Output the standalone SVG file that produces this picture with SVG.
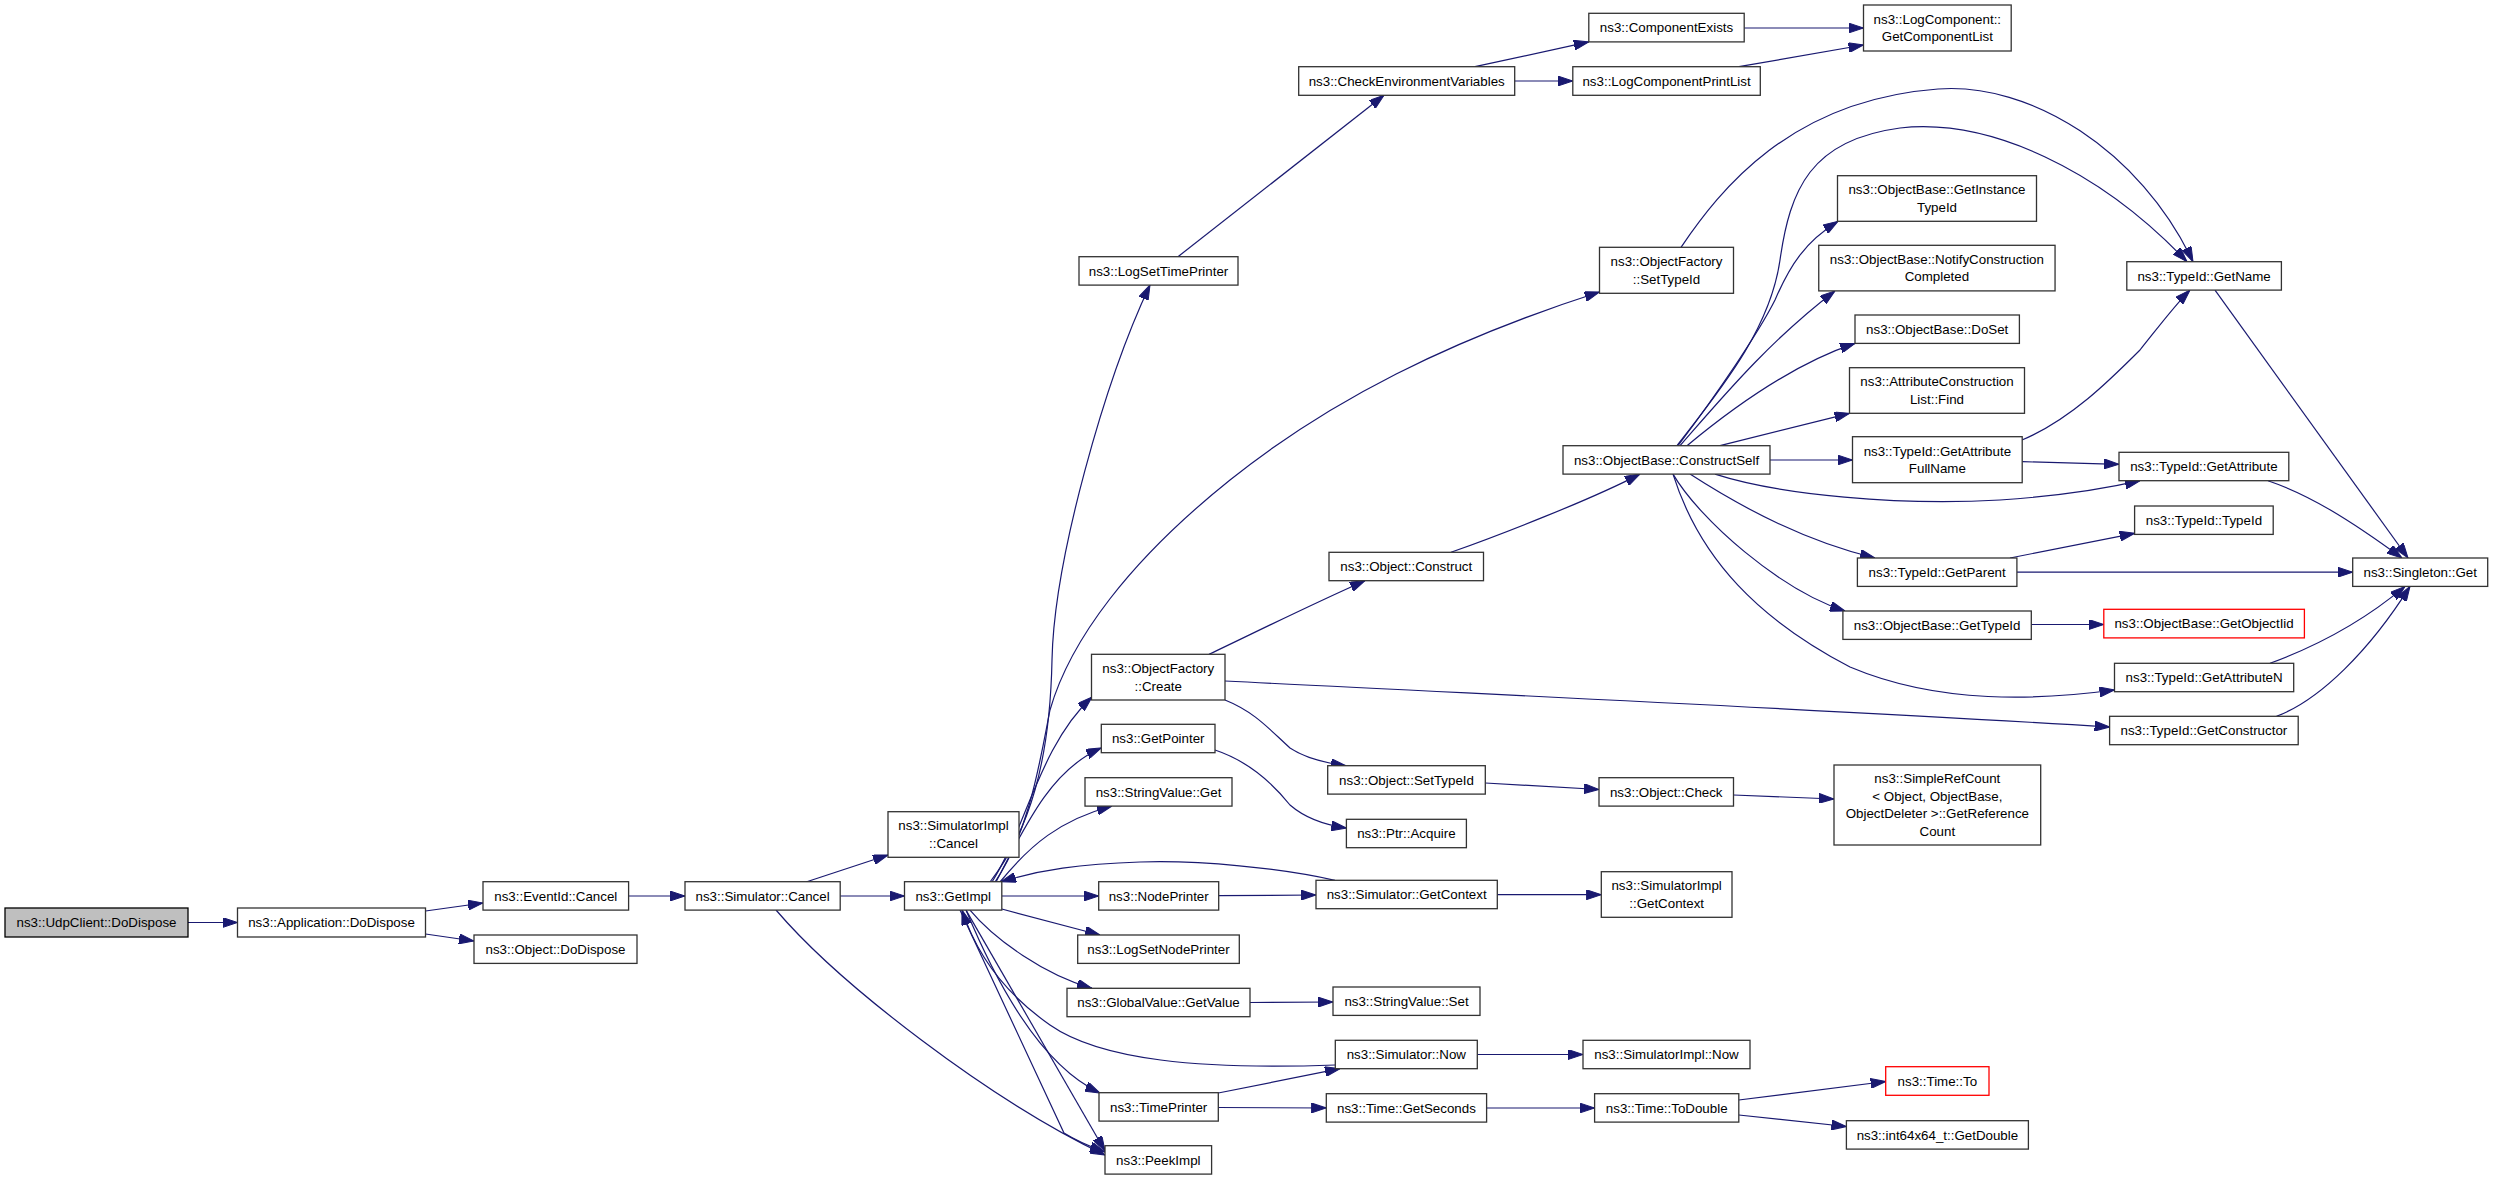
<svg xmlns="http://www.w3.org/2000/svg" width="2493" height="1180" viewBox="0 0 2493 1180">
<defs>
<style>
.n rect{fill:#ffffff;stroke:#333333;stroke-width:1.3}
.n.sel rect{fill:#bfbfbf;stroke:#000000}
.n.red rect{stroke:#ff0000}
.n text{font-family:"Liberation Sans",Arial,Helvetica,sans-serif;font-size:13.33px;fill:#000000;text-anchor:middle}
#edges path{fill:none;stroke:#191970;stroke-width:1.2;marker-end:url(#ah)}
</style>
<marker id="ah" viewBox="0 0 15 10" refX="15" refY="5" markerWidth="15" markerHeight="10" orient="auto" markerUnits="userSpaceOnUse">
<path d="M0,0 L15,5 L0,10 z" fill="#191970" stroke="#191970" stroke-width="1"/>
</marker>
</defs>
<rect x="0" y="0" width="2493" height="1180" fill="#ffffff"/>
<g id="edges">
<path d="M188,922.5 L237.5,922.5"/>
<path d="M425.5,911 L483,903"/>
<path d="M425.5,934 L474,941"/>
<path d="M628.6,896 L685,896"/>
<path d="M806,882 L888,855"/>
<path d="M840.2,896 L904.5,896"/>
<path d="M776,910 C840,985 990,1100 1105,1155"/>
<path d="M990,882 C1030,830 1050,760 1052,660 C1054,560 1105,380 1150,285"/>
<path d="M995,882 C1030,830 1040,760 1050,710 C1070,640 1130,560 1230,480 C1330,400 1450,340 1599.5,292"/>
<path d="M992,882 C1025,830 1040,745 1092,697"/>
<path d="M996,882 C1030,815 1055,768 1101.3,748"/>
<path d="M1000,882 C1030,845 1060,820 1112,806"/>
<path d="M1001.8,896 L1098.7,896"/>
<path d="M1001.8,909 L1100,935"/>
<path d="M970,910.1 C995,940 1045,975 1092,988.3"/>
<path d="M966,910.1 C995,980 1040,1065 1100,1093"/>
<path d="M1335.3,1065 C1200,1070 1100,1060 1050,1025 C1000,990 975,950 962,910.1"/>
<path d="M966,910.1 L1105,1151"/>
<path d="M960,910.1 L1064,1133 Q1080,1143 1105,1152"/>
<path d="M1335,880.3 C1280,868 1200,860 1140,862 C1080,864 1040,870 1001,881.7"/>
<path d="M1215,750 C1245,760 1270,780 1290,805 C1305,818 1325,825 1346.4,828"/>
<path d="M1218.7,895.7 L1316,895"/>
<path d="M1250,1002.5 L1333,1002"/>
<path d="M1218.3,1093 L1340,1068.7"/>
<path d="M1218.3,1107.5 L1326.3,1108"/>
<path d="M1209,654.3 C1260,630 1310,605 1365,580.7"/>
<path d="M1225,681 C1500,695 1800,708 2109.6,727"/>
<path d="M1225,700 C1255,712 1270,730 1290,748 C1305,758 1325,763 1346,765.7"/>
<path d="M1485.3,783 L1599,789.5"/>
<path d="M1733.5,795 L1834,799"/>
<path d="M1451,552.3 C1500,535 1590,500 1640,474.1"/>
<path d="M1497.3,894.7 L1601.3,894.7"/>
<path d="M1477.3,1054.5 L1583,1054.5"/>
<path d="M1486.6,1108 L1594.6,1108"/>
<path d="M1738.8,1100 L1885.7,1081.5"/>
<path d="M1738.8,1115 L1846.4,1126.5"/>
<path d="M1178,256.7 L1384,95.3"/>
<path d="M1475,66.7 L1588.8,41.9"/>
<path d="M1514.7,81 L1572.8,81"/>
<path d="M1744.2,28 L1863.5,28"/>
<path d="M1739,66.7 L1863.5,45"/>
<path d="M1681,247.3 C1720,190 1790,100 1938,89 C2030,82 2140,150 2193,261.7"/>
<path d="M1677,445.7 C1720,390 1770,330 1780,260 C1790,190 1810,140 1900,128 C1990,118 2100,170 2187,261.7"/>
<path d="M1678,445.7 C1720,390 1760,330 1775,300 C1790,265 1805,242 1838,221.3"/>
<path d="M1680,445.7 C1720,400 1770,340 1835,290.9"/>
<path d="M1687,445.7 C1730,410 1790,365 1855,343.4"/>
<path d="M1720,445.7 L1849.5,413.3"/>
<path d="M1770,460 L1852.5,460"/>
<path d="M1715,474.1 C1780,495 1900,506 2000,500 C2060,496 2100,490 2140,480.7"/>
<path d="M1690,474.1 C1730,500 1800,540 1875,558"/>
<path d="M1673,474.1 C1700,520 1780,590 1845,611"/>
<path d="M1673,474.1 C1700,560 1760,620 1850,667 C1940,705 2040,700 2114.5,690"/>
<path d="M2022,440 C2070,420 2110,380 2140,350 C2160,325 2175,305 2190,290.1"/>
<path d="M2022.2,461.7 L2119,464.3"/>
<path d="M2215,290.1 L2408,558"/>
<path d="M2268,480.7 C2310,495 2350,520 2402,558"/>
<path d="M2010,558 L2134.6,533.3"/>
<path d="M2016.9,572.2 L2352.7,572.2"/>
<path d="M2031.3,624.5 L2103.8,624.5"/>
<path d="M2270,663.3 C2320,645 2365,620 2405,586.4"/>
<path d="M2276.5,716.3 C2320,700 2370,650 2410,586.4"/>
</g>
<g id="n0" class="n sel"><rect x="5" y="908" width="183" height="29"/><text x="96.5" y="927.1">ns3::UdpClient::DoDispose</text></g>
<g id="n1" class="n"><rect x="237.5" y="908" width="188" height="29"/><text x="331.5" y="927.1">ns3::Application::DoDispose</text></g>
<g id="n2" class="n"><rect x="483" y="881.7" width="145.6" height="28.4"/><text x="555.8" y="900.5">ns3::EventId::Cancel</text></g>
<g id="n3" class="n"><rect x="474" y="935" width="163" height="28.4"/><text x="555.5" y="953.8">ns3::Object::DoDispose</text></g>
<g id="n4" class="n"><rect x="685" y="881.7" width="155.2" height="28.4"/><text x="762.6" y="900.5">ns3::Simulator::Cancel</text></g>
<g id="n5" class="n"><rect x="888" y="811.7" width="131" height="45.6"/><text x="953.5" y="830.35">ns3::SimulatorImpl</text><text x="953.5" y="847.85">::Cancel</text></g>
<g id="n6" class="n"><rect x="904.5" y="881.7" width="97.3" height="28.4"/><text x="953.2" y="900.5">ns3::GetImpl</text></g>
<g id="n7" class="n"><rect x="1079" y="256.7" width="159" height="28.4"/><text x="1158.5" y="275.5">ns3::LogSetTimePrinter</text></g>
<g id="n8" class="n"><rect x="1091.5" y="654.3" width="133.5" height="45.7"/><text x="1158.25" y="673">ns3::ObjectFactory</text><text x="1158.25" y="690.5">::Create</text></g>
<g id="n9" class="n"><rect x="1101.3" y="724.3" width="113.7" height="28.4"/><text x="1158.2" y="743.1">ns3::GetPointer</text></g>
<g id="n10" class="n"><rect x="1085" y="777.7" width="147" height="28.4"/><text x="1158.5" y="796.5">ns3::StringValue::Get</text></g>
<g id="n11" class="n"><rect x="1098.7" y="881.7" width="120" height="28.4"/><text x="1158.7" y="900.5">ns3::NodePrinter</text></g>
<g id="n12" class="n"><rect x="1077.7" y="935" width="161.6" height="28.4"/><text x="1158.5" y="953.8">ns3::LogSetNodePrinter</text></g>
<g id="n13" class="n"><rect x="1067" y="988.3" width="183" height="28.4"/><text x="1158.5" y="1007.1">ns3::GlobalValue::GetValue</text></g>
<g id="n14" class="n"><rect x="1099" y="1092.7" width="119.3" height="28.4"/><text x="1158.65" y="1111.5">ns3::TimePrinter</text></g>
<g id="n15" class="n"><rect x="1105" y="1145.7" width="106.6" height="28.4"/><text x="1158.3" y="1164.5">ns3::PeekImpl</text></g>
<g id="n16" class="n"><rect x="1298.7" y="66.7" width="216" height="28.6"/><text x="1406.7" y="85.6">ns3::CheckEnvironmentVariables</text></g>
<g id="n17" class="n"><rect x="1329" y="552.3" width="154.5" height="28.4"/><text x="1406.25" y="571.1">ns3::Object::Construct</text></g>
<g id="n18" class="n"><rect x="1327.7" y="765.7" width="157.6" height="28.4"/><text x="1406.5" y="784.5">ns3::Object::SetTypeId</text></g>
<g id="n19" class="n"><rect x="1346.4" y="819.3" width="120" height="28.4"/><text x="1406.4" y="838.1">ns3::Ptr::Acquire</text></g>
<g id="n20" class="n"><rect x="1316" y="880.3" width="181.3" height="28.4"/><text x="1406.65" y="899.1">ns3::Simulator::GetContext</text></g>
<g id="n21" class="n"><rect x="1333" y="987" width="147" height="28.4"/><text x="1406.5" y="1005.8">ns3::StringValue::Set</text></g>
<g id="n22" class="n"><rect x="1335.3" y="1040.3" width="142" height="28.4"/><text x="1406.3" y="1059.1">ns3::Simulator::Now</text></g>
<g id="n23" class="n"><rect x="1326.3" y="1093.7" width="160.3" height="28.4"/><text x="1406.45" y="1112.5">ns3::Time::GetSeconds</text></g>
<g id="n24" class="n"><rect x="1588.8" y="13.3" width="155.4" height="28.6"/><text x="1666.5" y="32.2">ns3::ComponentExists</text></g>
<g id="n25" class="n"><rect x="1572.8" y="66.7" width="187.5" height="28.6"/><text x="1666.55" y="85.6">ns3::LogComponentPrintList</text></g>
<g id="n26" class="n"><rect x="1599.5" y="247.3" width="134" height="46"/><text x="1666.5" y="266.15">ns3::ObjectFactory</text><text x="1666.5" y="283.65">::SetTypeId</text></g>
<g id="n27" class="n"><rect x="1563" y="445.7" width="207" height="28.4"/><text x="1666.5" y="464.5">ns3::ObjectBase::ConstructSelf</text></g>
<g id="n28" class="n"><rect x="1599" y="777.7" width="134.5" height="28.4"/><text x="1666.25" y="796.5">ns3::Object::Check</text></g>
<g id="n29" class="n"><rect x="1601.3" y="871.7" width="130.7" height="45.6"/><text x="1666.65" y="890.35">ns3::SimulatorImpl</text><text x="1666.65" y="907.85">::GetContext</text></g>
<g id="n30" class="n"><rect x="1583" y="1040.3" width="167" height="28.4"/><text x="1666.5" y="1059.1">ns3::SimulatorImpl::Now</text></g>
<g id="n31" class="n"><rect x="1594.6" y="1093.7" width="144.2" height="28.4"/><text x="1666.7" y="1112.5">ns3::Time::ToDouble</text></g>
<g id="n32" class="n"><rect x="1863.5" y="5" width="147.7" height="46"/><text x="1937.35" y="23.85">ns3::LogComponent::</text><text x="1937.35" y="41.35">GetComponentList</text></g>
<g id="n33" class="n"><rect x="1837.5" y="175.7" width="199" height="45.6"/><text x="1937" y="194.35">ns3::ObjectBase::GetInstance</text><text x="1937" y="211.85">TypeId</text></g>
<g id="n34" class="n"><rect x="1818.75" y="245.3" width="236.3" height="45.6"/><text x="1936.9" y="263.95">ns3::ObjectBase::NotifyConstruction</text><text x="1936.9" y="281.45">Completed</text></g>
<g id="n35" class="n"><rect x="1855" y="315" width="164.4" height="28.4"/><text x="1937.2" y="333.8">ns3::ObjectBase::DoSet</text></g>
<g id="n36" class="n"><rect x="1849.5" y="367.7" width="175" height="45.6"/><text x="1937" y="386.35">ns3::AttributeConstruction</text><text x="1937" y="403.85">List::Find</text></g>
<g id="n37" class="n"><rect x="1852.5" y="436.7" width="169.7" height="46"/><text x="1937.35" y="455.55">ns3::TypeId::GetAttribute</text><text x="1937.35" y="473.05">FullName</text></g>
<g id="n38" class="n"><rect x="1857.4" y="558" width="159.5" height="28.4"/><text x="1937.15" y="576.8">ns3::TypeId::GetParent</text></g>
<g id="n39" class="n"><rect x="1842.9" y="611" width="188.4" height="28.4"/><text x="1937.1" y="629.8">ns3::ObjectBase::GetTypeId</text></g>
<g id="n40" class="n"><rect x="1834" y="765" width="206.7" height="80"/><text x="1937.35" y="783.35">ns3::SimpleRefCount</text><text x="1937.35" y="800.85">&lt; Object, ObjectBase,</text><text x="1937.35" y="818.35">ObjectDeleter &gt;::GetReference</text><text x="1937.35" y="835.85">Count</text></g>
<g id="n41" class="n red"><rect x="1885.7" y="1066.7" width="103.3" height="28.6"/><text x="1937.35" y="1085.6">ns3::Time::To</text></g>
<g id="n42" class="n"><rect x="1846.4" y="1120.7" width="182" height="28.4"/><text x="1937.4" y="1139.5">ns3::int64x64_t::GetDouble</text></g>
<g id="n43" class="n"><rect x="2126.8" y="261.7" width="154.6" height="28.4"/><text x="2204.1" y="280.5">ns3::TypeId::GetName</text></g>
<g id="n44" class="n"><rect x="2119" y="452.3" width="169.8" height="28.4"/><text x="2203.9" y="471.1">ns3::TypeId::GetAttribute</text></g>
<g id="n45" class="n"><rect x="2134.6" y="506" width="138.6" height="28.4"/><text x="2203.9" y="524.8">ns3::TypeId::TypeId</text></g>
<g id="n46" class="n red"><rect x="2103.8" y="609.3" width="200.6" height="28.6"/><text x="2204.1" y="628.2">ns3::ObjectBase::GetObjectIid</text></g>
<g id="n47" class="n"><rect x="2114.5" y="663.3" width="179.2" height="28.4"/><text x="2204.1" y="682.1">ns3::TypeId::GetAttributeN</text></g>
<g id="n48" class="n"><rect x="2109.6" y="716.3" width="188.6" height="28.4"/><text x="2203.9" y="735.1">ns3::TypeId::GetConstructor</text></g>
<g id="n49" class="n"><rect x="2352.7" y="558" width="135" height="28.4"/><text x="2420.2" y="576.8">ns3::Singleton::Get</text></g>
</svg>
